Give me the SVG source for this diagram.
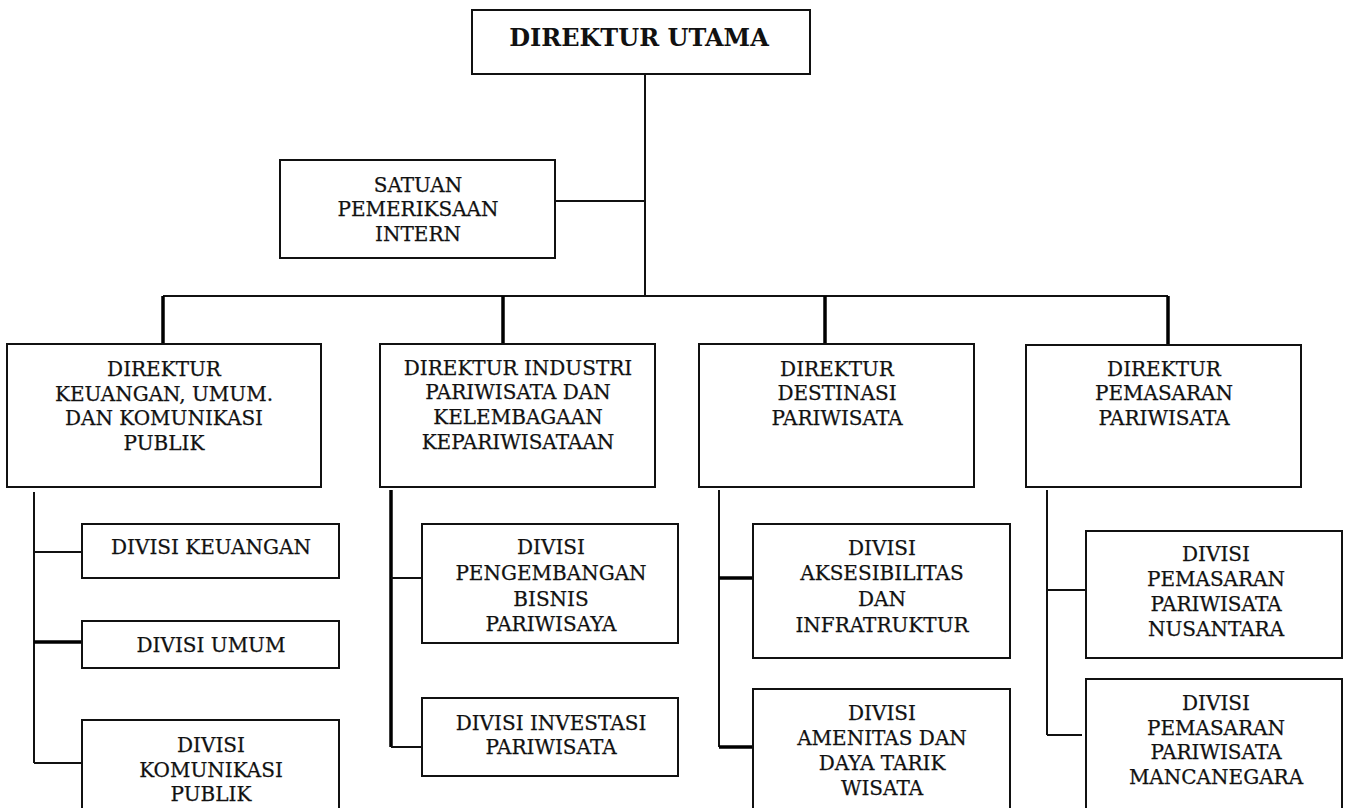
<svg xmlns="http://www.w3.org/2000/svg" width="1345" height="808" viewBox="0 0 1345 808">
<style>
.box{fill:#fff;stroke:#111;stroke-width:2}
.t{font-family:"DejaVu Serif",serif;font-size:20px;fill:#111;stroke:#111;stroke-width:0.25;text-anchor:middle}
.tb{font-family:"DejaVu Serif",serif;font-size:24px;font-weight:bold;fill:#111;text-anchor:middle}
.c{stroke:#111;stroke-width:2;fill:none}
.k{stroke:#000;stroke-width:3.5;fill:none}
</style>
<rect width="1345" height="808" fill="#fff"/>
<g id="connectors">
<line class="c" x1="645" y1="74" x2="645" y2="296"/>
<line class="c" x1="555" y1="201" x2="645" y2="201"/>
<line class="c" x1="163" y1="296" x2="1168" y2="296"/>
<line class="k" x1="163" y1="296" x2="163" y2="344"/>
<line class="k" x1="503" y1="296" x2="503" y2="344"/>
<line class="k" x1="825" y1="296" x2="825" y2="344"/>
<line class="k" x1="1168" y1="296" x2="1168" y2="345"/>
<line class="c" x1="34" y1="492" x2="34" y2="763"/>
<line class="c" x1="34" y1="552" x2="82" y2="552"/>
<line class="k" x1="34" y1="642" x2="82" y2="642"/>
<line class="c" x1="34" y1="763" x2="82" y2="763"/>
<line class="k" x1="391" y1="490" x2="391" y2="747"/>
<line class="c" x1="391" y1="578" x2="422" y2="578"/>
<line class="c" x1="391" y1="747" x2="422" y2="747"/>
<line class="c" x1="719" y1="490" x2="719" y2="747"/>
<line class="k" x1="719" y1="578" x2="753" y2="578"/>
<line class="k" x1="719" y1="747" x2="753" y2="747"/>
<line class="c" x1="1047" y1="490" x2="1047" y2="735"/>
<line class="c" x1="1047" y1="590" x2="1086" y2="590"/>
<line class="c" x1="1047" y1="735" x2="1082" y2="735"/>
</g>
<g id="direktur-utama">
<rect class="box" x="472" y="10" width="338" height="64"/>
<text class="tb" x="639" y="46">DIREKTUR UTAMA</text>
</g>
<g id="spi">
<rect class="box" x="280" y="160" width="275" height="98"/>
<text class="t" x="418" y="192">SATUAN</text>
<text class="t" x="418" y="216">PEMERIKSAAN</text>
<text class="t" x="418" y="241">INTERN</text>
</g>
<g id="dir-keuangan">
<rect class="box" x="7" y="344" width="314" height="143"/>
<text class="t" x="164" y="376">DIREKTUR</text>
<text class="t" x="164" y="401">KEUANGAN, UMUM.</text>
<text class="t" x="164" y="425">DAN KOMUNIKASI</text>
<text class="t" x="164" y="450">PUBLIK</text>
</g>
<g id="dir-industri">
<rect class="box" x="380" y="344" width="275" height="143"/>
<text class="t" x="518" y="375">DIREKTUR INDUSTRI</text>
<text class="t" x="518" y="399">PARIWISATA DAN</text>
<text class="t" x="518" y="424">KELEMBAGAAN</text>
<text class="t" x="518" y="449">KEPARIWISATAAN</text>
</g>
<g id="dir-destinasi">
<rect class="box" x="699" y="344" width="275" height="143"/>
<text class="t" x="837" y="376">DIREKTUR</text>
<text class="t" x="837" y="400">DESTINASI</text>
<text class="t" x="837" y="425">PARIWISATA</text>
</g>
<g id="dir-pemasaran">
<rect class="box" x="1026" y="345" width="275" height="142"/>
<text class="t" x="1164" y="376">DIREKTUR</text>
<text class="t" x="1164" y="400">PEMASARAN</text>
<text class="t" x="1164" y="425">PARIWISATA</text>
</g>
<g id="div-keuangan">
<rect class="box" x="82" y="524" width="257" height="54"/>
<text class="t" x="211" y="554">DIVISI KEUANGAN</text>
</g>
<g id="div-umum">
<rect class="box" x="82" y="621" width="257" height="47"/>
<text class="t" x="211" y="652">DIVISI UMUM</text>
</g>
<g id="div-komunikasi">
<rect class="box" x="82" y="720" width="257" height="100"/>
<text class="t" x="211" y="752">DIVISI</text>
<text class="t" x="211" y="777">KOMUNIKASI</text>
<text class="t" x="211" y="801">PUBLIK</text>
</g>
<g id="div-pengembangan">
<rect class="box" x="422" y="524" width="256" height="119"/>
<text class="t" x="551" y="554">DIVISI</text>
<text class="t" x="551" y="580">PENGEMBANGAN</text>
<text class="t" x="551" y="606">BISNIS</text>
<text class="t" x="551" y="631">PARIWISAYA</text>
</g>
<g id="div-investasi">
<rect class="box" x="422" y="698" width="256" height="78"/>
<text class="t" x="551" y="730">DIVISI INVESTASI</text>
<text class="t" x="551" y="754">PARIWISATA</text>
</g>
<g id="div-aksesibilitas">
<rect class="box" x="753" y="524" width="257" height="134"/>
<text class="t" x="882" y="555">DIVISI</text>
<text class="t" x="882" y="580">AKSESIBILITAS</text>
<text class="t" x="882" y="606">DAN</text>
<text class="t" x="882" y="632">INFRATRUKTUR</text>
</g>
<g id="div-amenitas">
<rect class="box" x="753" y="689" width="257" height="130"/>
<text class="t" x="882" y="720">DIVISI</text>
<text class="t" x="882" y="745">AMENITAS DAN</text>
<text class="t" x="882" y="770">DAYA TARIK</text>
<text class="t" x="882" y="795">WISATA</text>
</g>
<g id="div-nusantara">
<rect class="box" x="1086" y="531" width="256" height="127"/>
<text class="t" x="1216" y="561">DIVISI</text>
<text class="t" x="1216" y="586">PEMASARAN</text>
<text class="t" x="1216" y="611">PARIWISATA</text>
<text class="t" x="1216" y="636">NUSANTARA</text>
</g>
<g id="div-mancanegara">
<rect class="box" x="1086" y="679" width="256" height="140"/>
<text class="t" x="1216" y="710">DIVISI</text>
<text class="t" x="1216" y="735">PEMASARAN</text>
<text class="t" x="1216" y="759">PARIWISATA</text>
<text class="t" x="1216" y="784">MANCANEGARA</text>
</g>
</svg>
